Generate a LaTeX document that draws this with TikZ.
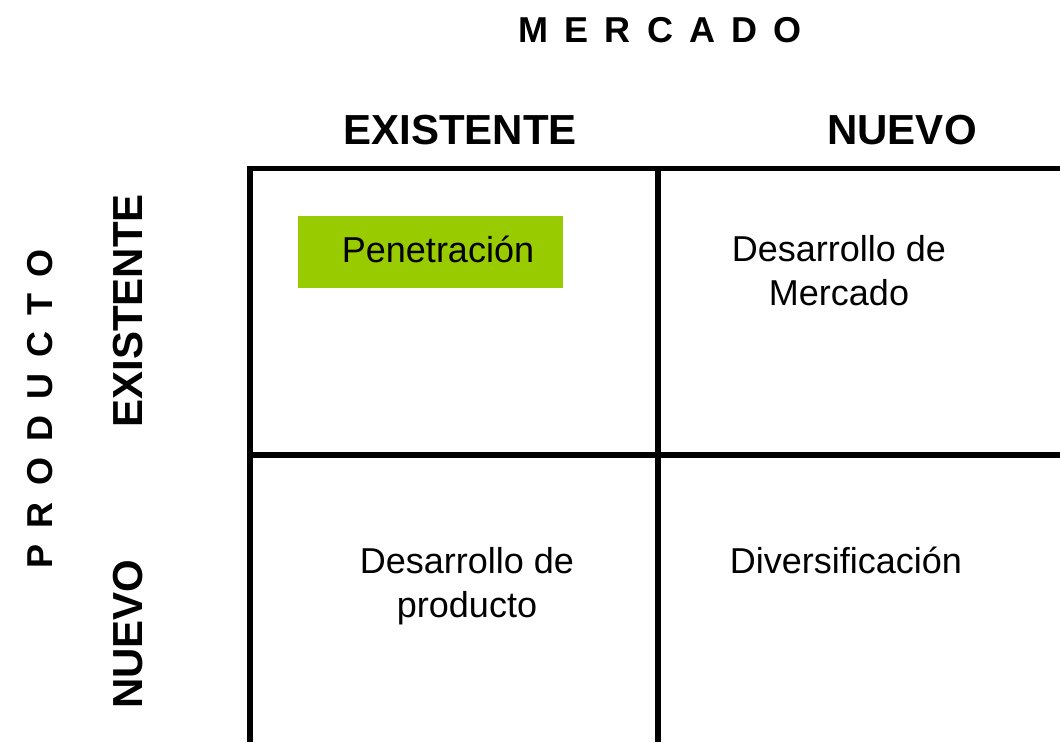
\documentclass[tikz,border=0pt]{standalone}
\usepackage{fontspec}
\setmainfont{Liberation Sans}
\definecolor{pgreen}{HTML}{99CC00}
\begin{document}
\begin{tikzpicture}[x=1pt,y=-1pt,
  gridline/.style={line width=5.5pt},
  head/.style={font=\fontsize{42}{48}\selectfont\bfseries, inner sep=0},
  big/.style={font=\fontsize{36}{40}\selectfont\bfseries\addfontfeature{LetterSpace=45}, inner sep=0},
  cell/.style={font=\fontsize{36}{44}\selectfont, align=center, inner sep=0}]
\useasboundingbox (0,0) rectangle (1060,742);
\fill[white] (0,0) rectangle (1060,742);
% grid coordinates
\coordinate (lt) at (250,168.5);
\coordinate (lb) at (250,742);
\coordinate (mt) at (658,168.5);
\coordinate (mb) at (658,742);
\coordinate (rt) at (1060,168.5);
\coordinate (ml) at (250,455);
\coordinate (mr) at (1060,455);
\draw[gridline] (lb) -- (lt) -- (rt);
\draw[gridline] (mt) -- (mb);
\draw[gridline] (ml) -- (mr);
% green highlight
\node[fill=pgreen, minimum width=265pt, minimum height=72pt, inner sep=0] (pbox) at (430.5,252) {};
% titles
\node[big] (mercado) at (660,30) {MERCADO};
\node[big, rotate=90] (producto) at (40,409) {PRODUCTO};
% headers
\node[head] (hexist) at (460,130) {EXISTENTE};
\node[head] (hnuevo) at (902,130) {NUEVO};
\node[head, rotate=90] (vexist) at (128,311) {EXISTENTE};
\node[head, rotate=90] (vnuevo) at (128,634) {NUEVO};
% cells
\node[cell] (pen) at (438,249) {Penetración};
\node[cell] (dmer) at (839,271) {Desarrollo de\\Mercado};
\node[cell] (dprod) at (467,586) {Desarrollo de\\producto};
\node[cell] (div) at (846,560) {Diversificación};
\end{tikzpicture}
\end{document}
